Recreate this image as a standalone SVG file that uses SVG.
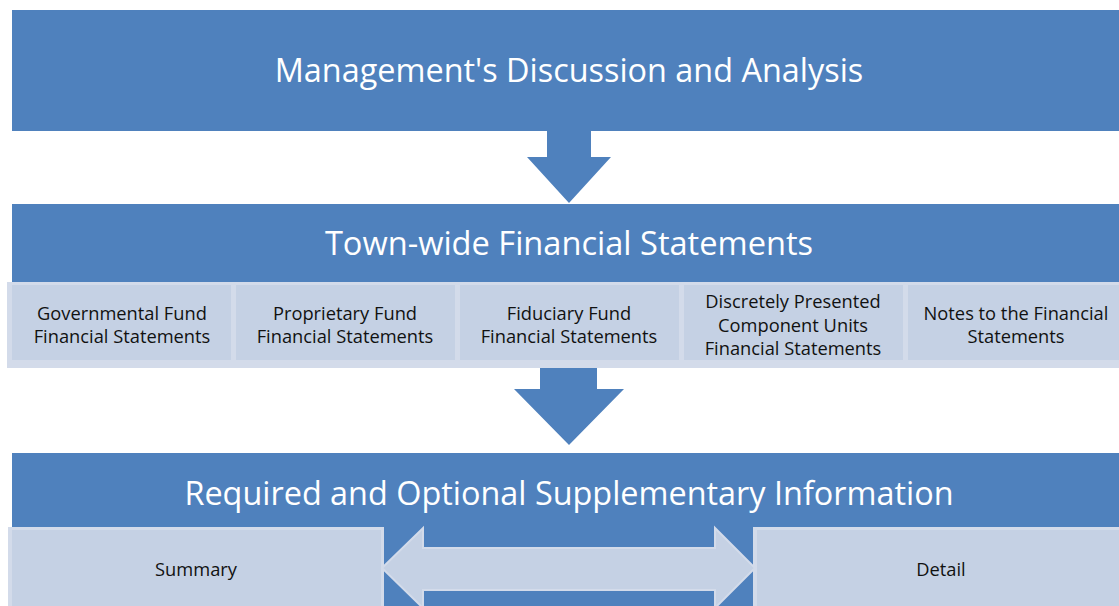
<svg xmlns="http://www.w3.org/2000/svg" width="1119" height="606" viewBox="0 0 1119 606">
<style>
.hdr{fill:#4f81bd}
.outer{fill:#d3dbea}
.inner{fill:#c5d1e4}
.big{font-family:"Open Sans","Liberation Sans",sans-serif;fill:#ffffff;text-anchor:middle}
.small{font-family:"Open Sans","Liberation Sans",sans-serif;font-size:18.3px;fill:#111111;text-anchor:middle}
.arr{fill:#4f81bd}
.darr{fill:#c5d1e4;stroke:#d3dbea;stroke-width:2}
</style>
<rect width="1119" height="606" fill="#ffffff"/>
<g id="connectors">
<polygon class="arr" points="547,128 591,128 591,157 611,157 569,203 527,157 547,157"/>
<polygon class="arr" points="540,360 597,360 597,389 624,389 569,445 514,389 540,389"/>
</g>
<g id="mda">
<rect class="hdr" x="12" y="10" width="1107" height="121"/>
<text class="big" x="569" y="81.5" font-size="32.4">Management's Discussion and Analysis</text>
</g>
<g id="townwide">
<rect class="hdr" x="12" y="204" width="1107" height="78"/>
<text class="big" x="569" y="254.5" font-size="32.6">Town-wide Financial Statements</text>
</g>
<g id="governmental">
<rect class="outer" x="7" y="282" width="226" height="86"/>
<rect class="inner" x="12" y="285" width="219" height="75"/>
<text class="small" x="122" y="320">Governmental Fund</text>
<text class="small" x="122" y="343">Financial Statements</text>
</g>
<g id="proprietary">
<rect class="outer" x="233" y="282" width="224" height="86"/>
<rect class="inner" x="236" y="285" width="219" height="75"/>
<text class="small" x="345" y="320">Proprietary Fund</text>
<text class="small" x="345" y="343">Financial Statements</text>
</g>
<g id="fiduciary">
<rect class="outer" x="457" y="282" width="224" height="86"/>
<rect class="inner" x="460" y="285" width="219" height="75"/>
<text class="small" x="569" y="320">Fiduciary Fund</text>
<text class="small" x="569" y="343">Financial Statements</text>
</g>
<g id="discretely">
<rect class="outer" x="681" y="282" width="224" height="86"/>
<rect class="inner" x="684" y="285" width="219" height="75"/>
<text class="small" x="793" y="308">Discretely Presented</text>
<text class="small" x="793" y="331.5">Component Units</text>
<text class="small" x="793" y="355">Financial Statements</text>
</g>
<g id="notes">
<rect class="outer" x="905" y="282" width="214" height="86"/>
<rect class="inner" x="908" y="285" width="211" height="75"/>
<text class="small" x="1016" y="320">Notes to the Financial</text>
<text class="small" x="1016" y="343">Statements</text>
</g>
<g id="supplementary">
<rect class="hdr" x="12" y="453" width="1107" height="153"/>
<text class="big" x="569" y="505" font-size="32.4">Required and Optional Supplementary Information</text>
</g>
<g id="summary">
<rect class="outer" x="8" y="527" width="376" height="79"/>
<rect class="inner" x="12" y="530" width="369" height="76"/>
<text class="small" x="196" y="576">Summary</text>
</g>
<g id="detail">
<rect class="outer" x="753" y="527" width="366" height="79"/>
<rect class="inner" x="757" y="530" width="362" height="76"/>
<text class="small" x="941" y="576">Detail</text>
</g>
<g id="connectors-bottom">
<polygon class="darr" points="382,568 423,528 423,548 715,548 715,528 755,568 715,608 715,590 423,590 423,608"/>
</g>
</svg>
